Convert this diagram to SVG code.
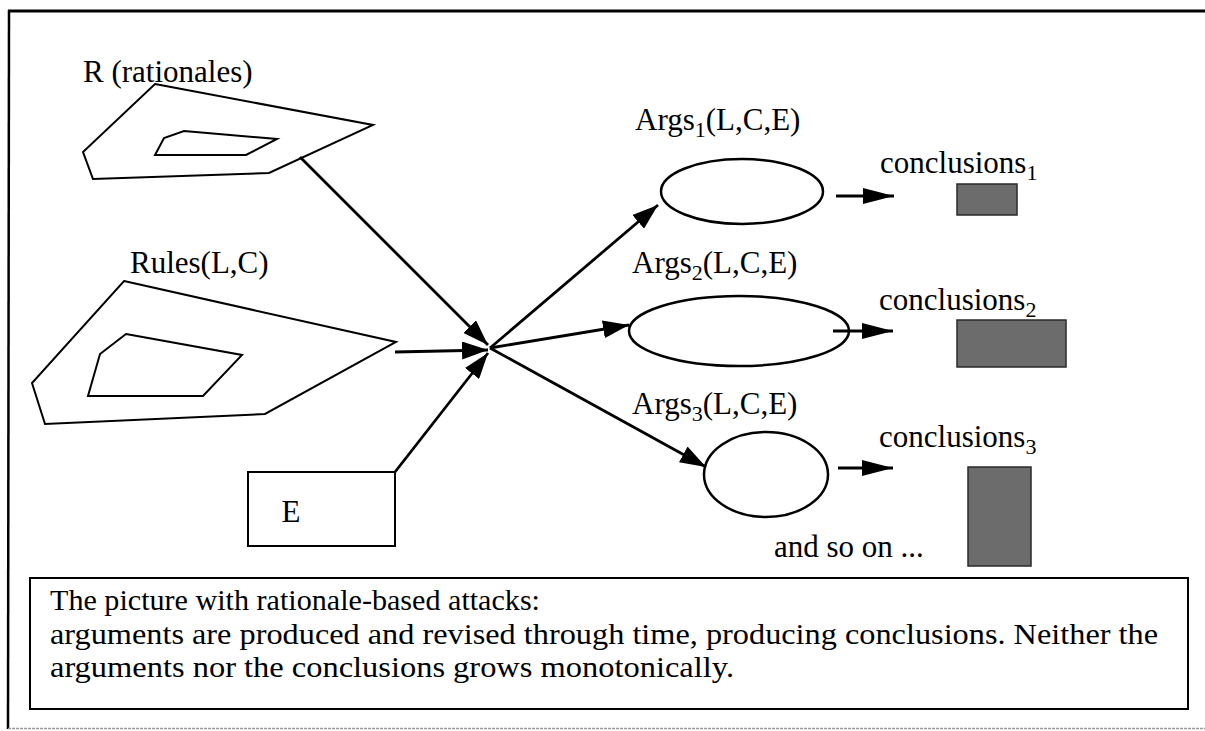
<svg xmlns="http://www.w3.org/2000/svg" width="1205" height="731" viewBox="0 0 1205 731">
<style>
.ln{fill:none;stroke:#000;stroke-width:2;stroke-linejoin:miter}
.ell{fill:none;stroke:#000;stroke-width:2.5}
.con{fill:none;stroke:#000;stroke-width:2.8}
.lbl{font-family:"Liberation Serif","Times New Roman",serif;font-size:31px;fill:#000}
.cap{font-family:"Liberation Serif","Times New Roman",serif;font-size:30px;fill:#000}
.sub{font-size:22px}
.gray{fill:#6c6c6c;stroke:#2a2a2a;stroke-width:1.5}
</style>
<defs>
<marker id="ah" markerUnits="userSpaceOnUse" markerWidth="26" markerHeight="18" refX="26" refY="9" orient="auto">
<path d="M0,0 L26,9 L0,18 z" fill="#000"/>
</marker>
<marker id="ahs" markerUnits="userSpaceOnUse" markerWidth="31" markerHeight="16" refX="31" refY="8" orient="auto">
<path d="M0,0 L31,8 L0,16 z" fill="#000"/>
</marker>
</defs>
<rect width="1205" height="731" fill="#fff"/>
<g id="frame">
<line x1="8" y1="11" x2="1205" y2="11" stroke="#000" stroke-width="3"/>
<line x1="9" y1="10" x2="8" y2="729" stroke="#000" stroke-width="2.5"/>
<line x1="8" y1="728.5" x2="1205" y2="728.5" stroke="#999" stroke-width="1.5" stroke-dasharray="3 1"/>
</g>
<g id="node-R">
<polygon class="ln" points="155,84 373,125 269,173 93,179 83,152"/>
<polygon class="ln" points="184,131 277,139 246,155 155,155 164,138"/>
<text class="lbl" x="83" y="82">R (rationales)</text>
</g>
<g id="node-Rules">
<polygon class="ln" points="124,281 396,342 265,414 45,424 32,383"/>
<polygon class="ln" points="126,334 242,355 203,396 88,396 100,354"/>
<text class="lbl" x="130" y="273">Rules(L,C)</text>
</g>
<g id="node-E">
<rect class="ln" x="248" y="472" width="147" height="74"/>
<text class="lbl" x="291" y="522" text-anchor="middle">E</text>
</g>
<g id="node-Args1">
<ellipse class="ell" cx="742" cy="191.5" rx="81" ry="32.5"/>
<text class="lbl" x="635" y="130">Args<tspan class="sub" dy="7">1</tspan><tspan dy="-7">(L,C,E)</tspan></text>
</g>
<g id="node-Args2">
<ellipse class="ell" cx="739" cy="331" rx="110" ry="35"/>
<text class="lbl" x="632" y="273">Args<tspan class="sub" dy="7">2</tspan><tspan dy="-7">(L,C,E)</tspan></text>
</g>
<g id="node-Args3">
<ellipse class="ell" cx="766" cy="474.5" rx="62" ry="42.5"/>
<text class="lbl" x="632" y="414">Args<tspan class="sub" dy="7">3</tspan><tspan dy="-7">(L,C,E)</tspan></text>
</g>
<g id="node-conclusions1">
<rect class="gray" x="957" y="184" width="60" height="31"/>
<text class="lbl" x="880" y="173">conclusions<tspan class="sub" dy="7">1</tspan></text>
</g>
<g id="node-conclusions2">
<rect class="gray" x="957" y="320" width="109" height="47"/>
<text class="lbl" x="879" y="310">conclusions<tspan class="sub" dy="7">2</tspan></text>
</g>
<g id="node-conclusions3">
<rect class="gray" x="968" y="467" width="63" height="99"/>
<text class="lbl" x="879" y="447">conclusions<tspan class="sub" dy="7">3</tspan></text>
<text class="lbl" x="774" y="557">and so on ...</text>
</g>
<g id="connectors">
<line class="con" x1="300" y1="157" x2="488" y2="345" marker-end="url(#ah)"/>
<line class="con" x1="395" y1="352" x2="488" y2="350" marker-end="url(#ah)"/>
<line class="con" x1="395" y1="472" x2="488" y2="353" marker-end="url(#ah)"/>
<line class="con" x1="490" y1="348" x2="658" y2="205" marker-end="url(#ah)"/>
<line class="con" x1="490" y1="348" x2="629" y2="325" marker-end="url(#ah)"/>
<line class="con" x1="490" y1="348" x2="706" y2="467" marker-end="url(#ah)"/>
<line class="con" x1="836" y1="196" x2="894" y2="196" marker-end="url(#ahs)"/>
<line class="con" x1="833" y1="331" x2="893" y2="331" marker-end="url(#ahs)"/>
<line class="con" x1="838" y1="468" x2="893" y2="468" marker-end="url(#ahs)"/>
</g>
<g id="caption">
<rect class="ln" x="30" y="578" width="1158" height="131"/>
<text class="cap" x="50" y="610" textLength="490" lengthAdjust="spacingAndGlyphs">The picture with rationale-based attacks:</text>
<text class="cap" x="50" y="643.5" textLength="1108" lengthAdjust="spacingAndGlyphs">arguments are produced and revised through time, producing conclusions.  Neither the</text>
<text class="cap" x="50" y="677" textLength="684" lengthAdjust="spacingAndGlyphs">arguments nor the conclusions grows monotonically.</text>
</g>
</svg>
